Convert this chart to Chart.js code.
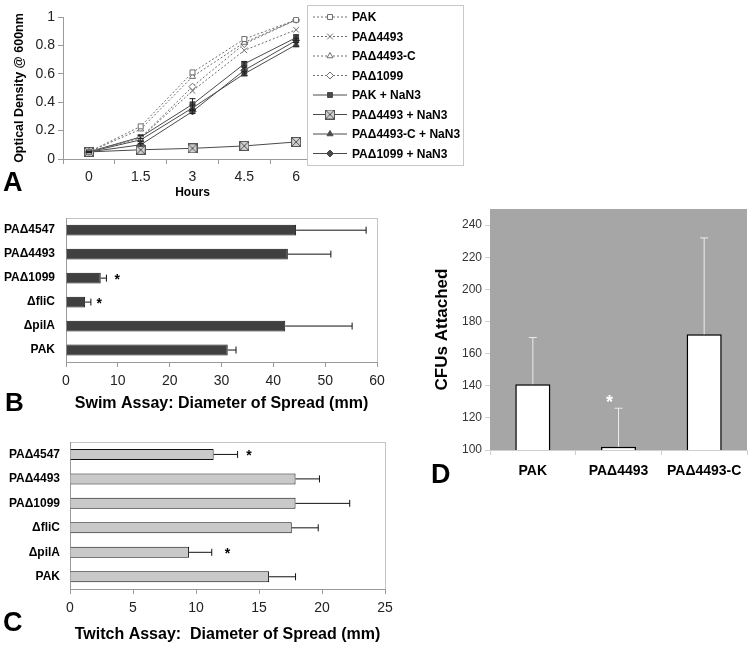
<!DOCTYPE html>
<html><head><meta charset="utf-8">
<script src="https://cdn.jsdelivr.net/npm/chart.js@4.4.0/dist/chart.umd.min.js"></script>
<style>
html,body{margin:0;padding:0;background:#fff;width:753px;height:646px;overflow:hidden;}
.wrap{position:relative;width:753px;height:646px;}
canvas{position:absolute;}
.lbl{position:absolute;font-family:'Liberation Sans',Arial,sans-serif;font-weight:bold;color:#000;line-height:1;}
</style></head><body>
<div class="wrap">
<canvas id="cA" width="470" height="200" style="left:0px;top:0px"></canvas>
<canvas id="cB" width="400" height="215" style="left:0px;top:200px"></canvas>
<canvas id="cC" width="400" height="221" style="left:0px;top:425px"></canvas>
<canvas id="cD" width="333" height="300" style="left:420px;top:190px"></canvas>
<div class="lbl" style="left:3px;top:169px;font-size:27px">A</div>
<div class="lbl" style="left:5px;top:389px;font-size:26px">B</div>
<div class="lbl" style="left:3px;top:609px;font-size:27px">C</div>
<div class="lbl" style="left:431px;top:461px;font-size:27px">D</div>
</div>
<script>
// ---------- Panel A: growth curves ----------
const hours = ['0', '1.5', '3', '4.5', '6'];
const growthNames = ['PAK', 'PA\u03944493', 'PA\u03944493-C', 'PA\u03941099',
  'PAK + NaN3', 'PA\u03944493 + NaN3', 'PA\u03944493-C + NaN3', 'PA\u03941099 + NaN3'];
const odPAK        = [0.05, 0.23, 0.61, 0.845, 0.98];
const odD4493      = [0.05, 0.15, 0.48, 0.765, 0.91];
const odD4493C     = [0.05, 0.21, 0.58, 0.82, 0.98];
const odD1099      = [0.05, 0.15, 0.51, 0.81, 0.98];
const odPAKNaN3    = [0.05, 0.155, 0.385, 0.67, 0.855];
const odD4493NaN3  = [0.05, 0.065, 0.075, 0.092, 0.12];
const odD4493CNaN3 = [0.05, 0.135, 0.36, 0.60, 0.805];
const odD1099NaN3  = [0.05, 0.10, 0.335, 0.625, 0.835];
const odErrPAKNaN3    = [0.005, 0.01, 0.04, 0.015, 0.02];
const odErrD4493CNaN3 = [0.005, 0.01, 0.02, 0.015, 0.015];
const odErrD1099NaN3  = [0.005, 0.01, 0.015, 0.02, 0.015];

// ---------- Panels B & C: motility ----------
const strains = ['PA\u03944547', 'PA\u03944493', 'PA\u03941099', '\u0394fliC', '\u0394pilA', 'PAK'];
const swimMeans = [44.4, 42.8, 6.7, 3.7, 42.3, 31.2];
const swimErr   = [13.5, 8.3, 1.1, 1.1, 12.9, 1.6];
const swimStarAt = [null, null, 9.9, 6.4, null, null];
const twitchMeans = [11.4, 17.9, 17.9, 17.6, 9.45, 15.8];
const twitchErr   = [1.9, 1.9, 4.3, 2.1, 1.8, 2.1];
const twitchStarAt = [14.2, null, null, null, 12.5, null];

// ---------- Panel D: attachment ----------
const attachStrains = ['PAK', 'PA\u03944493', 'PA\u03944493-C'];
const cfuMeans = [141, 102, 172];
const cfuErr   = [29, 24, 60];
const cfuStarAt = [null, 132, null];

const F = "'Liberation Sans', Arial, sans-serif";
Chart.defaults.font.family = F;

function boxX(){
  const c = document.createElement('canvas'); c.width = 10; c.height = 10;
  const g = c.getContext('2d');
  g.fillStyle = '#cfcfcf'; g.fillRect(0.5,0.5,9,9);
  g.strokeStyle = '#555'; g.lineWidth = 1; g.strokeRect(0.5,0.5,9,9);
  g.beginPath(); g.moveTo(1,1); g.lineTo(9,9); g.moveTo(9,1); g.lineTo(1,9); g.stroke();
  return c;
}

const errPlugin = {
  id: 'errbars',
  afterDatasetsDraw(chart){
    const ctx = chart.ctx;
    chart.data.datasets.forEach((ds, di) => {
      const meta = chart.getDatasetMeta(di);
      const horiz = chart.options.indexAxis === 'y';
      const vs = chart.scales[horiz ? 'x' : 'y'];
      ctx.save();
      ctx.strokeStyle = ds.errColor || '#000';
      ctx.lineWidth = 1;
      if (ds.errorPlus) {
        meta.data.forEach((el, i) => {
          const v = ds.data[i], e = ds.errorPlus[i];
          const p = vs.getPixelForValue(v + e);
          ctx.beginPath();
          if (horiz) {
            ctx.moveTo(el.x, el.y); ctx.lineTo(p, el.y);
            ctx.moveTo(p, el.y - 3.5); ctx.lineTo(p, el.y + 3.5);
          } else {
            ctx.moveTo(el.x, el.y); ctx.lineTo(el.x, p);
            ctx.moveTo(el.x - 4, p); ctx.lineTo(el.x + 4, p);
          }
          ctx.stroke();
        });
      }
      if (ds.errorBoth) {
        meta.data.forEach((el, i) => {
          const v = ds.data[i], e = ds.errorBoth[i];
          const p1 = vs.getPixelForValue(v + e), p2 = vs.getPixelForValue(v - e);
          ctx.beginPath();
          ctx.moveTo(el.x, p1); ctx.lineTo(el.x, p2);
          ctx.moveTo(el.x - 3, p1); ctx.lineTo(el.x + 3, p1);
          ctx.moveTo(el.x - 3, p2); ctx.lineTo(el.x + 3, p2);
          ctx.stroke();
        });
      }
      if (ds.starAt) {
        ctx.fillStyle = ds.starColor || '#000';
        ctx.font = 'bold ' + (ds.starSize || 14) + 'px ' + F;
        ctx.textAlign = 'center'; ctx.textBaseline = 'middle';
        meta.data.forEach((el, i) => {
          const s = ds.starAt[i];
          if (s === null || s === undefined) return;
          const p = vs.getPixelForValue(s);
          if (horiz) ctx.fillText('*', p, el.y + 2);
          else ctx.fillText('*', el.x + (ds.starDx || 0), p + 4);
        });
      }
      ctx.restore();
    });
  }
};

const frame = {
  id: 'frame',
  beforeDraw(chart, args, opts){
    const a = chart.chartArea, ctx = chart.ctx;
    ctx.save();
    if (opts.fill) { ctx.fillStyle = opts.fill; ctx.fillRect(a.left, a.top, a.right - a.left, a.bottom - a.top); }
    if (opts.stroke) { ctx.strokeStyle = opts.stroke; ctx.lineWidth = 1;
      ctx.strokeRect(Math.round(a.left) + 0.5, Math.round(a.top) + 0.5, Math.round(a.right - a.left), Math.round(a.bottom - a.top)); }
    ctx.restore();
  }
};

const legendA = {
  id: 'legendA',
  afterDraw(chart){
    const ctx = chart.ctx;
    ctx.save();
    ctx.fillStyle = '#fff'; ctx.fillRect(307.5, 5.5, 156, 160);
    ctx.strokeStyle = '#c8c8c8'; ctx.lineWidth = 1; ctx.strokeRect(307.5, 5.5, 156, 160);
    chart.data.datasets.forEach((ds, i) => {
      const y = 17 + i * 19.5;
      ctx.save();
      ctx.strokeStyle = ds.borderColor; ctx.lineWidth = ds.borderWidth;
      ctx.setLineDash(ds.borderDash || []);
      ctx.beginPath(); ctx.moveTo(313, y); ctx.lineTo(347, y); ctx.stroke();
      ctx.setLineDash([]);
      ctx.fillStyle = ds.pointBackgroundColor; ctx.strokeStyle = ds.pointBorderColor; ctx.lineWidth = 1;
      Chart.helpers.drawPoint(ctx, {pointStyle: ds.pointStyle, radius: ds.pointRadius, borderWidth: 1, rotation: 0}, 330, y);
      ctx.restore();
      ctx.fillStyle = '#000'; ctx.font = 'bold 12px ' + F;
      ctx.textAlign = 'left'; ctx.textBaseline = 'middle';
      ctx.fillText(growthNames[i], 352, y + 1);
    });
    ctx.restore();
  }
};

const dotted = '#6e6e6e', solid = '#4a4a4a';
function lineDs(i, data, style, open, extra){
  const o = Object.assign({
    label: growthNames[i], data: data,
    borderColor: open ? dotted : solid, borderWidth: 1,
    borderDash: open ? [2, 2] : [],
    pointStyle: style, pointRadius: style === 'crossRot' ? 4 : 3.5,
    pointBackgroundColor: open ? '#fff' : '#4a4a4a',
    pointBorderColor: open ? '#6e6e6e' : '#4a4a4a',
    pointBorderWidth: 1, tension: 0
  }, extra || {});
  return o;
}
const bx = boxX();
new Chart(document.getElementById('cA'), {
  type: 'line',
  data: {
    labels: hours,
    datasets: [
      lineDs(0, odPAK, 'rect', true),
      lineDs(1, odD4493, 'crossRot', true),
      lineDs(2, odD4493C, 'triangle', true),
      lineDs(3, odD1099, 'rectRot', true),
      lineDs(4, odPAKNaN3, 'rect', false, {errorBoth: odErrPAKNaN3, errColor: '#222'}),
      lineDs(5, odD4493NaN3, bx, false, {pointRadius: 5}),
      lineDs(6, odD4493CNaN3, 'triangle', false, {errorBoth: odErrD4493CNaN3, errColor: '#222'}),
      lineDs(7, odD1099NaN3, 'rectRot', false, {errorBoth: odErrD1099NaN3, errColor: '#222'})
    ]
  },
  options: {
    responsive: false, animation: false, devicePixelRatio: 1,
    layout: {padding: {left: 12, top: 17, right: 148, bottom: 0}},
    plugins: {legend: {display: false}, tooltip: {enabled: false}},
    scales: {
      x: {
        offset: true,
        grid: {offset: true, drawOnChartArea: false, tickLength: 5, color: '#9a9a9a'},
        border: {color: '#9a9a9a'},
        ticks: {font: {size: 14}, color: '#222', padding: 5},
        title: {display: true, text: 'Hours', font: {size: 12, weight: 'bold'}, color: '#000', padding: 0},
        afterFit(s){ s.height = 41; }
      },
      y: {
        min: 0, max: 1,
        ticks: {stepSize: 0.2, font: {size: 14}, color: '#222', padding: 3,
          callback: v => String(Math.round(v * 10) / 10)},
        grid: {drawOnChartArea: false, tickLength: 5, color: '#9a9a9a'},
        border: {color: '#9a9a9a'},
        title: {display: true, text: 'Optical Density @ 600nm', font: {size: 12.5, weight: 'bold'}, color: '#000', padding: 0},
        afterFit(s){ s.width = 51; }
      }
    }
  },
  plugins: [errPlugin, legendA]
});

function hbar(id, labels, means, errs, stars, fill, xmax, step, title, pad, xh, yw, labelPad){
  return new Chart(document.getElementById(id), {
    type: 'bar',
    data: {labels: labels, datasets: [{data: means, backgroundColor: fill, borderColor: '#111', borderWidth: 1,
      barPercentage: 0.45, categoryPercentage: 1, errorPlus: errs, starAt: stars, errColor: '#111'}]},
    options: {
      indexAxis: 'y', responsive: false, animation: false, devicePixelRatio: 1,
      layout: {padding: pad},
      plugins: {legend: {display: false}, tooltip: {enabled: false}, frame: {stroke: '#c4c4c4'}},
      scales: {
        x: {
          min: 0, max: xmax,
          ticks: {stepSize: step, font: {size: 14}, color: '#222', padding: 6},
          grid: {drawOnChartArea: false, tickLength: 5, color: '#9a9a9a'},
          border: {color: '#9a9a9a'},
          title: {display: true, text: title, font: {size: 16, weight: 'bold'}, color: '#000', padding: {top: 0, bottom: 2}},
          afterFit(s){ s.height = xh; }
        },
        y: {
          grid: {display: false, drawTicks: false},
          border: {color: '#9a9a9a'},
          ticks: {font: {size: 12, weight: 'bold'}, color: '#000', padding: labelPad},
          afterFit(s){ s.width = yw; }
        }
      }
    },
    plugins: [frame, errPlugin]
  });
}
hbar('cB', strains, swimMeans, swimErr, swimStarAt, '#404040', 60, 10,
  'Swim Assay: Diameter of Spread (mm)', {left: 0, top: 10, right: 23, bottom: 0}, 53, 66, 11);
hbar('cC', strains, twitchMeans, twitchErr, twitchStarAt, '#c9c9c9', 25, 5,
  'Twitch Assay:  Diameter of Spread (mm)', {left: 0, top: 13, right: 15, bottom: 0}, 57, 70, 10);

new Chart(document.getElementById('cD'), {
  type: 'bar',
  data: {labels: attachStrains, datasets: [{data: cfuMeans, backgroundColor: '#fff', borderColor: '#000', borderWidth: 1.5,
    barPercentage: 0.41, categoryPercentage: 1, errorPlus: cfuErr, errColor: '#ececec',
    starAt: cfuStarAt, starColor: '#fff', starDx: -9, starSize: 18}]},
  options: {
    responsive: false, animation: false, devicePixelRatio: 1,
    layout: {padding: {left: 12, top: 19, right: 6, bottom: 0}},
    plugins: {legend: {display: false}, tooltip: {enabled: false}, frame: {fill: '#a6a6a6'}},
    scales: {
      x: {
        grid: {offset: true, drawOnChartArea: false, tickLength: 5, color: '#cfcfcf'},
        border: {color: '#cfcfcf'},
        ticks: {font: {size: 14, weight: 'bold'}, color: '#000', padding: 8},
        afterFit(s){ s.height = 40; }
      },
      y: {
        min: 100, max: 250,
        ticks: {stepSize: 20, font: {size: 12}, color: '#333', padding: 3},
        afterBuildTicks(s){ s.ticks = s.ticks.filter(t => t.value <= 240); },
        grid: {drawOnChartArea: false, tickLength: 5, color: '#d0d0d0'},
        border: {display: false},
        title: {display: true, text: 'CFUs Attached', font: {size: 17, weight: 'bold'}, color: '#000', padding: 0},
        afterFit(s){ s.width = 58; }
      }
    }
  },
  plugins: [frame, errPlugin]
});
</script>
</body></html>
